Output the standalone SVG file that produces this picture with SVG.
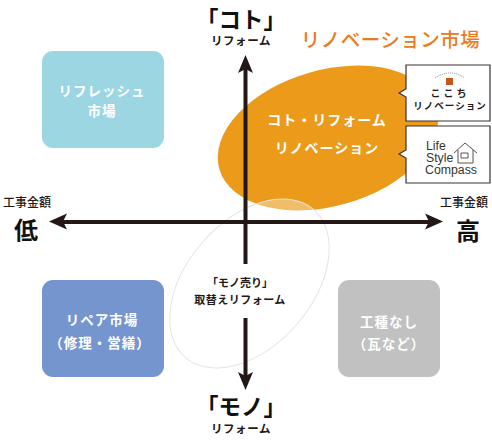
<svg xmlns="http://www.w3.org/2000/svg" width="492" height="441" viewBox="0 0 492 441">
<style>
text{font-family:"Noto Sans CJK JP","Noto Sans",sans-serif;text-anchor:middle;}
.w{fill:#fff;font-size:13.5px;font-weight:700;letter-spacing:1px}
.k{fill:#231815;font-weight:700}
.s{font-size:12px;font-weight:500;fill:#231815}
.r{font-size:11.5px;font-weight:700;fill:#231815;letter-spacing:.6px}
.b{font-size:24px;font-weight:700;fill:#111}
.q{font-size:22.5px;font-weight:700;fill:#111}
.ax{stroke:#231815;stroke-width:4;fill:none}
.ah{fill:#231815}
.bx{fill:#fff;stroke:#3a3230;stroke-width:1.2}
.en{font-family:"Liberation Sans",sans-serif;text-anchor:start;font-size:12.3px;fill:#3a3230}
</style>
<rect width="492" height="441" fill="#fff"/>
<g id="node-refresh"><rect x="42" y="51" width="122" height="97" rx="11" fill="#9cd6e3"/><text class="w" x="102" y="96">リフレッシュ</text><text class="w" x="102" y="116">市場</text></g>
<g id="node-repair"><rect x="42" y="280" width="122" height="97" rx="11" fill="#7595cf"/><text class="w" x="102" y="325">リペア市場</text><text class="w" x="100" y="348">（修理・営繕）</text></g>
<g id="node-none"><rect x="338" y="280" width="102" height="97" rx="11" fill="#c0c1c0"/><text class="w" x="389" y="327">工種なし</text><text class="w" x="389" y="349">（瓦など）</text></g>
<g id="node-koto-reno"><ellipse cx="328" cy="138" rx="113" ry="68" transform="rotate(-16 328 138)" fill="#ec9a1a"/><text x="327" y="125" font-size="14" font-weight="700" fill="#fff" letter-spacing="1">コト・リフォーム</text><text x="327" y="153" font-size="14" font-weight="700" fill="#fff" letter-spacing="1">リノベーション</text></g>
<g id="node-mono-sell"><ellipse cx="249.5" cy="283.5" rx="98" ry="62.5" transform="rotate(-49 249.5 283.5)" fill="#fff" fill-opacity=".35" stroke="#e4e4e4" stroke-width="1"/><text class="k" x="240" y="287" font-size="11">「モノ売り」</text><text class="k" x="240" y="304" font-size="11" letter-spacing=".5">取替えリフォーム</text></g>
<g id="connectors">
<path class="ax" d="M60 222H432M245.500 68V264M245.500 318V376"/>
<path class="ah" d="M49 221.500L67 213.500L63 221.500L67 229.500ZM443 221.500L425 213.500L429 221.500L425 229.500ZM245.500 55L238 73L245.500 69L253 73ZM245.500 390L238 372L245.500 376L253 372Z"/>
</g>
<g id="node-kokochi"><path class="bx" d="M406 65H490V121H406V97L399 93L406 89Z"/><rect x="446" y="78" width="7" height="7" fill="#c8561c"/><path d="M435 78Q450 68 465 78" fill="none" stroke="#888" stroke-width="1" stroke-dasharray="1 1"/><text class="k" x="450" y="97" font-size="10" letter-spacing="3">ここち</text><text class="k" x="450" y="109" font-size="9.500" letter-spacing="1">リノベーション</text></g>
<g id="node-lifestyle"><path class="bx" d="M406 126H490V183H406V158L399 154L406 150Z" stroke="#77716e"/><text class="en" x="426" y="150">Life</text><text class="en" x="426" y="162">Style</text><text class="en" x="425" y="174">Compass</text><path d="M454 153L465 143L477 153M458 150V163H473V150M461 153H468V158H461Z" fill="none" stroke="#5a5250" stroke-width="1"/></g>
<g id="labels">
<text class="q" x="241" y="28">「コト」</text>
<text class="r" x="241" y="45">リフォーム</text>
<text x="390.500" y="47" font-size="19.500" font-weight="500" fill="#ec7a22" letter-spacing=".5">リノベーション市場</text>
<text class="s" x="27" y="207">工事金額</text>
<text class="b" x="26" y="239">低</text>
<text class="s" x="464" y="207">工事金額</text>
<text class="b" x="468" y="240">高</text>
<text class="q" x="241" y="415">「モノ」</text>
<text class="r" x="241" y="433">リフォーム</text>
</g>
</svg>
